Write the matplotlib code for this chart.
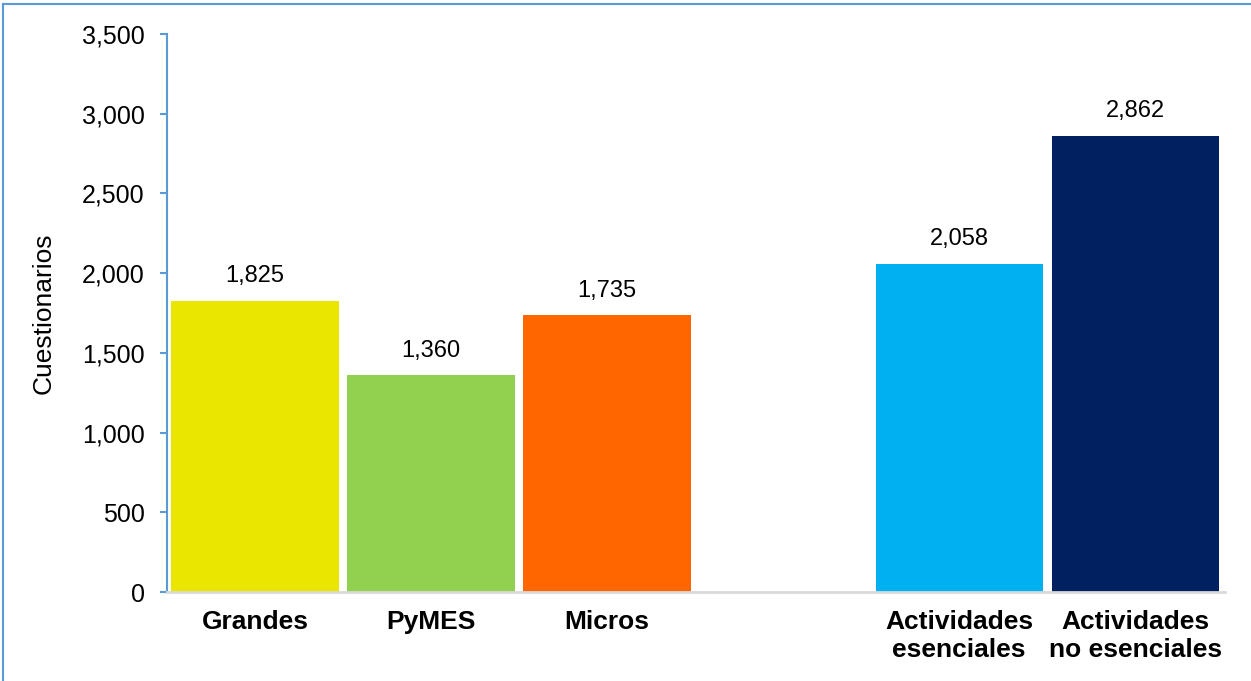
import matplotlib.pyplot as plt
from matplotlib.lines import Line2D
from matplotlib.ticker import FuncFormatter

plt.rcParams["font.family"] = ["Liberation Sans", "DejaVu Sans"]

categories = ["Grandes", "PyMES", "Micros", "Actividades\nesenciales", "Actividades\nno esenciales"]
positions = [0, 1, 2, 4, 5]
values = [1825, 1360, 1735, 2058, 2862]
colors = ["#EAE600", "#92D050", "#FF6600", "#00B0F0", "#002060"]

W, H = 1251, 681
fig = plt.figure(figsize=(W / 100, H / 100), dpi=100)
ax = fig.add_axes([167 / W, 1 - 592 / H, (1225 - 167) / W, (592 - 34) / H])

ax.bar(positions, values, width=0.95, color=colors, zorder=2)
for x, v in zip(positions, values):
    ax.text(x, v + 85, f"{v:,}", ha="center", va="bottom", fontsize=17)

ax.set_xlim(-0.5, 5.51)
ax.set_ylim(0, 3500)
ax.set_yticks(range(0, 3501, 500))
ax.yaxis.set_major_formatter(FuncFormatter(lambda v, _: f"{int(v):,}"))
ax.set_xticks(positions)
ax.set_xticklabels(categories, fontsize=19, fontweight="bold", linespacing=1.2)
ax.tick_params(axis="x", length=0, pad=13)
ax.tick_params(axis="y", labelsize=18, color="#5B9BD5", length=5, width=1.5, pad=11)
ax.set_ylabel("Cuestionarios", fontsize=19, labelpad=19)

for s in ["top", "right"]:
    ax.spines[s].set_visible(False)
ax.spines["left"].set_color("#5B9BD5")
ax.spines["left"].set_linewidth(1.5)
ax.spines["bottom"].set_color("#D9D9D9")
ax.spines["bottom"].set_linewidth(2)

# outer chart-area frame (top and left edges visible)
fig.add_artist(Line2D([3 / W, 3 / W], [0, 1 - 4 / H], color="#5B9BD5", lw=1.5,
                      transform=fig.transFigure))
fig.add_artist(Line2D([3 / W, 1], [1 - 4 / H, 1 - 4 / H], color="#5B9BD5", lw=1.5,
                      transform=fig.transFigure))

fig.savefig("out.png", dpi=100)
